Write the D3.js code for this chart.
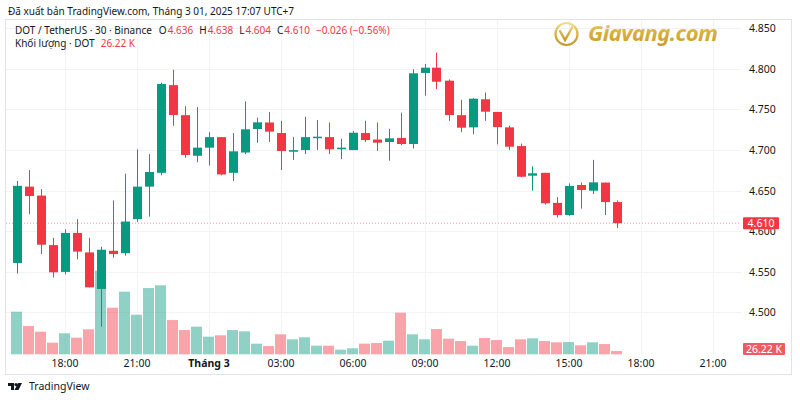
<!DOCTYPE html>
<html><head><meta charset="utf-8">
<script src="https://cdn.jsdelivr.net/npm/d3@7/dist/d3.min.js"></script>
<style>html,body{margin:0;padding:0;background:#fff;}svg{display:block;font-family:"Noto Sans",Roboto,sans-serif;}</style>
</head><body><svg id="c" width="800" height="400"></svg>
<script>
// ---- data ----
const startTime = "2025-02-28T16:00:00";
const opens  = [4.561,4.655,4.644,4.583,4.550,4.598,4.574,4.529,4.576,4.573,4.615,4.655,4.672,4.780,4.743,4.693,4.703,4.716,4.672,4.697,4.726,4.734,4.721,4.698,4.700,4.7155,4.716,4.701,4.700,4.721,4.713,4.710,4.715,4.7075,4.795,4.8015,4.7855,4.743,4.728,4.7626,4.747,4.728,4.705,4.6685,4.672,4.635,4.620,4.657,4.650,4.660,4.636];
const highs  = [4.662,4.6755,4.652,4.592,4.6025,4.615,4.592,4.581,4.638,4.671,4.701,4.695,4.783,4.799,4.754,4.753,4.722,4.716,4.721,4.760,4.740,4.747,4.736,4.716,4.741,4.737,4.734,4.714,4.7235,4.736,4.734,4.726,4.746,4.7995,4.806,4.820,4.787,4.762,4.764,4.771,4.747,4.730,4.708,4.680,4.672,4.642,4.659,4.660,4.688,4.660,4.638];
const lows   = [4.548,4.621,4.572,4.543,4.547,4.5655,4.531,4.4825,4.5675,4.570,4.6115,4.618,4.669,4.730,4.6906,4.685,4.681,4.669,4.662,4.695,4.709,4.710,4.6755,4.688,4.695,4.700,4.695,4.689,4.700,4.710,4.699,4.687,4.706,4.702,4.767,4.775,4.736,4.722,4.7195,4.736,4.707,4.700,4.667,4.650,4.633,4.617,4.619,4.628,4.646,4.620,4.604];
const closes = [4.656,4.6435,4.5835,4.5495,4.598,4.575,4.531,4.5773,4.572,4.612,4.655,4.673,4.7814,4.7432,4.694,4.703,4.716,4.670,4.6985,4.7256,4.7342,4.7227,4.6989,4.700,4.716,4.7165,4.701,4.703,4.7214,4.7124,4.7091,4.7145,4.7075,4.7946,4.8015,4.7842,4.7432,4.7276,4.7633,4.7473,4.7284,4.7042,4.6672,4.6714,4.6345,4.620,4.6558,4.6509,4.6603,4.636,4.610];
const volumes = [341,226,181,93,168,133,200,669,373,501,317,530,552,274,194,221,141,152,194,184,85,66,160,120,136,69,69,37,48,85,90,109,333,160,120,202,125,106,69,130,114,58,120,128,106,96,98,72,96,82,26.22]; // thousands
const priceTicks = [4.5,4.55,4.6,4.65,4.7,4.75,4.8,4.85];
const timeTicks = ["2025-02-28T18:00:00","2025-02-28T21:00:00","2025-03-01T00:00:00","2025-03-01T03:00:00","2025-03-01T06:00:00","2025-03-01T09:00:00","2025-03-01T12:00:00","2025-03-01T15:00:00","2025-03-01T18:00:00","2025-03-01T21:00:00"];
const timeTickLabels = ["18:00","21:00","Tháng 3","03:00","06:00","09:00","12:00","15:00","18:00","21:00"];
const lastPrice = 4.610, lastVolumeLabel = "26.22 K";

// ---- setup ----
const svg = d3.select("#c");
const UP = "#089981", DOWN = "#F23645", TXT = "#131722";
const t0 = new Date(startTime);
const times = opens.map((d,i)=> new Date(t0.getTime() + i*30*60000));
const bars = opens.map((o,i)=>({t:times[i],o,h:highs[i],l:lows[i],c:closes[i],v:volumes[i]}));

const plotL = 5, plotR = 741, plotT = 19, plotB = 355;
const x = d3.scaleTime().domain([times[0], times[times.length-1]]).range([16.5, 616.5]);
const y = d3.scaleLinear().domain([4.6, 4.85]).range([231.3, 28.3]);
const yv = d3.scaleLinear().domain([0, 800]).range([354.3, 254.3]);

// frame
svg.append("rect").attr("x",5.5).attr("y",19.5).attr("width",786).attr("height",355).attr("fill","none").attr("stroke","#e0e3eb");

// grid
svg.append("g").selectAll("line").data(priceTicks).join("line")
  .attr("x1",plotL+1).attr("x2",plotR).attr("y1",d=>Math.round(y(d))+0.5).attr("y2",d=>Math.round(y(d))+0.5)
  .attr("stroke","#f2f3f6");
svg.append("g").selectAll("line").data(timeTicks).join("line")
  .attr("x1",d=>Math.round(x(new Date(d)))+0.5).attr("x2",d=>Math.round(x(new Date(d)))+0.5)
  .attr("y1",plotT+1).attr("y2",plotB).attr("stroke","#f2f3f6");

// watermark
const wm = svg.append("g");
const grad = svg.append("defs").append("linearGradient").attr("id","gold").attr("x1","0").attr("y1","0").attr("x2","0").attr("y2","1");
grad.append("stop").attr("offset","0").attr("stop-color","#f3dc8a");
grad.append("stop").attr("offset","0.5").attr("stop-color","#d9b040");
grad.append("stop").attr("offset","1").attr("stop-color","#c79a2c");
wm.append("circle").attr("cx",566.5).attr("cy",34).attr("r",11).attr("fill","none").attr("stroke","url(#gold)").attr("stroke-width",2.2);
wm.append("path").attr("d","M560,31 L565,40 L573,26").attr("fill","none").attr("stroke","url(#gold)").attr("stroke-width",2.4).attr("stroke-linecap","round");
wm.append("text").attr("x",588).attr("y",41).attr("font-size",22).attr("font-weight","bold").attr("font-style","italic")
  .attr("textLength",130).attr("fill","url(#gold)").text("Giavang.com");

// volume bars
svg.append("g").selectAll("rect").data(bars).join("rect")
  .attr("x",d=>x(d.t)-5.5).attr("width",11)
  .attr("y",d=>yv(d.v)).attr("height",d=>yv(0)-yv(d.v))
  .attr("fill",d=> d.c>=d.o ? UP : DOWN).attr("fill-opacity",0.45);

// last price line
svg.append("line").attr("x1",plotL+1).attr("x2",plotR).attr("y1",y(lastPrice)).attr("y2",y(lastPrice))
  .attr("stroke",DOWN).attr("stroke-opacity",0.5).attr("stroke-dasharray","1,2");

// candles
const cg = svg.append("g").selectAll("g").data(bars).join("g");
cg.append("line").attr("x1",d=>Math.round(x(d.t))+0.5).attr("x2",d=>Math.round(x(d.t))+0.5)
  .attr("y1",d=>y(d.h)).attr("y2",d=>y(d.l)).attr("stroke",d=> d.c>=d.o?UP:DOWN).attr("stroke-width",1);
cg.append("rect").attr("x",d=>Math.round(x(d.t))-4).attr("width",9)
  .attr("y",d=>y(Math.max(d.o,d.c))).attr("height",d=>Math.max(1.5, Math.abs(y(d.o)-y(d.c))))
  .attr("fill",d=> d.c>=d.o?UP:DOWN);

// right price axis
const ya = d3.axisRight(y).tickValues(priceTicks).tickFormat(d3.format(".3f")).tickSize(0).tickPadding(0);
const gy = svg.append("g").attr("transform","translate(749,0)").call(ya);
gy.select(".domain").remove();
gy.selectAll("text").attr("font-size",10.5).attr("fill",TXT).attr("font-family","Noto Sans, sans-serif");

// price label
svg.append("rect").attr("x",743).attr("y",y(lastPrice)-6).attr("width",36).attr("height",12).attr("rx",1).attr("fill",DOWN);
svg.append("text").attr("x",761).attr("y",y(lastPrice)+3.8).attr("text-anchor","middle").attr("font-size",10.5).attr("fill","#fff").text(d3.format(".3f")(lastPrice));
// volume label
svg.append("rect").attr("x",743).attr("y",343).attr("width",42).attr("height",12).attr("rx",1).attr("fill","#f05a63");
svg.append("text").attr("x",764).attr("y",352.8).attr("text-anchor","middle").attr("font-size",10.5).attr("fill","#fff").text(lastVolumeLabel);

// time axis
const xa = d3.axisBottom(x).tickValues(timeTicks.map(d=>new Date(d))).tickFormat((d,i)=>timeTickLabels[i]).tickSize(0).tickPadding(0);
const gx = svg.append("g").attr("transform","translate(0,360)").call(xa);
gx.select(".domain").remove();
gx.selectAll("text").attr("font-size",10.5).attr("fill",TXT).attr("dy","0.71em").attr("font-family","Noto Sans, sans-serif")
  .attr("font-weight",(d,i)=> timeTickLabels[i]==="Tháng 3" ? "bold":"normal");

// header
svg.append("text").attr("x",8).attr("y",15).attr("font-size",10).attr("fill",TXT).text("Đã xuất bản TradingView.com, Tháng 3 01, 2025 17:07 UTC+7");

// legend line 1 (segments chained by measured width)
function chain(yPos, segs, x0){
  let cx = x0;
  segs.forEach(s=>{
    cx += s.gap||0;
    const t = svg.append("text").attr("x",cx).attr("y",yPos).attr("font-size",10).attr("fill",s.color||TXT).text(s.text);
    cx += t.node().getComputedTextLength();
  });
}
const last = opens.length-1;
const chg = closes[last]-closes[last-1], pct = chg/closes[last-1]*100;
const f3 = d3.format(".3f");
chain(34, [
  {text:"DOT / TetherUS · 30 · Binance"},
  {text:"O",gap:7},{text:f3(opens[last]),color:DOWN,gap:1},
  {text:"H",gap:6},{text:f3(highs[last]),color:DOWN,gap:1},
  {text:"L",gap:6},{text:f3(lows[last]),color:DOWN,gap:1},
  {text:"C",gap:6},{text:f3(closes[last]),color:DOWN,gap:1},
  {text:f3(chg).replace("-","−")+" ("+d3.format(".2f")(pct).replace("-","−")+"%)",color:DOWN,gap:6}
], 15);
chain(47, [
  {text:"Khối lượng · DOT"},
  {text:lastVolumeLabel,color:DOWN,gap:6}
], 15);

// bottom logo
const lg = svg.append("g").attr("transform","translate(8,383)").attr("fill",TXT);
lg.append("path").attr("d","M0,0 H6 V7 H3 V3 H0 Z");
lg.append("circle").attr("cx",8).attr("cy",1.6).attr("r",1.6);
lg.append("path").attr("d","M10,0 H14 L10.5,7 H6.5 Z");
svg.append("text").attr("x",29).attr("y",390).attr("font-size",10.5).attr("fill",TXT).text("TradingView");
</script></body></html>
